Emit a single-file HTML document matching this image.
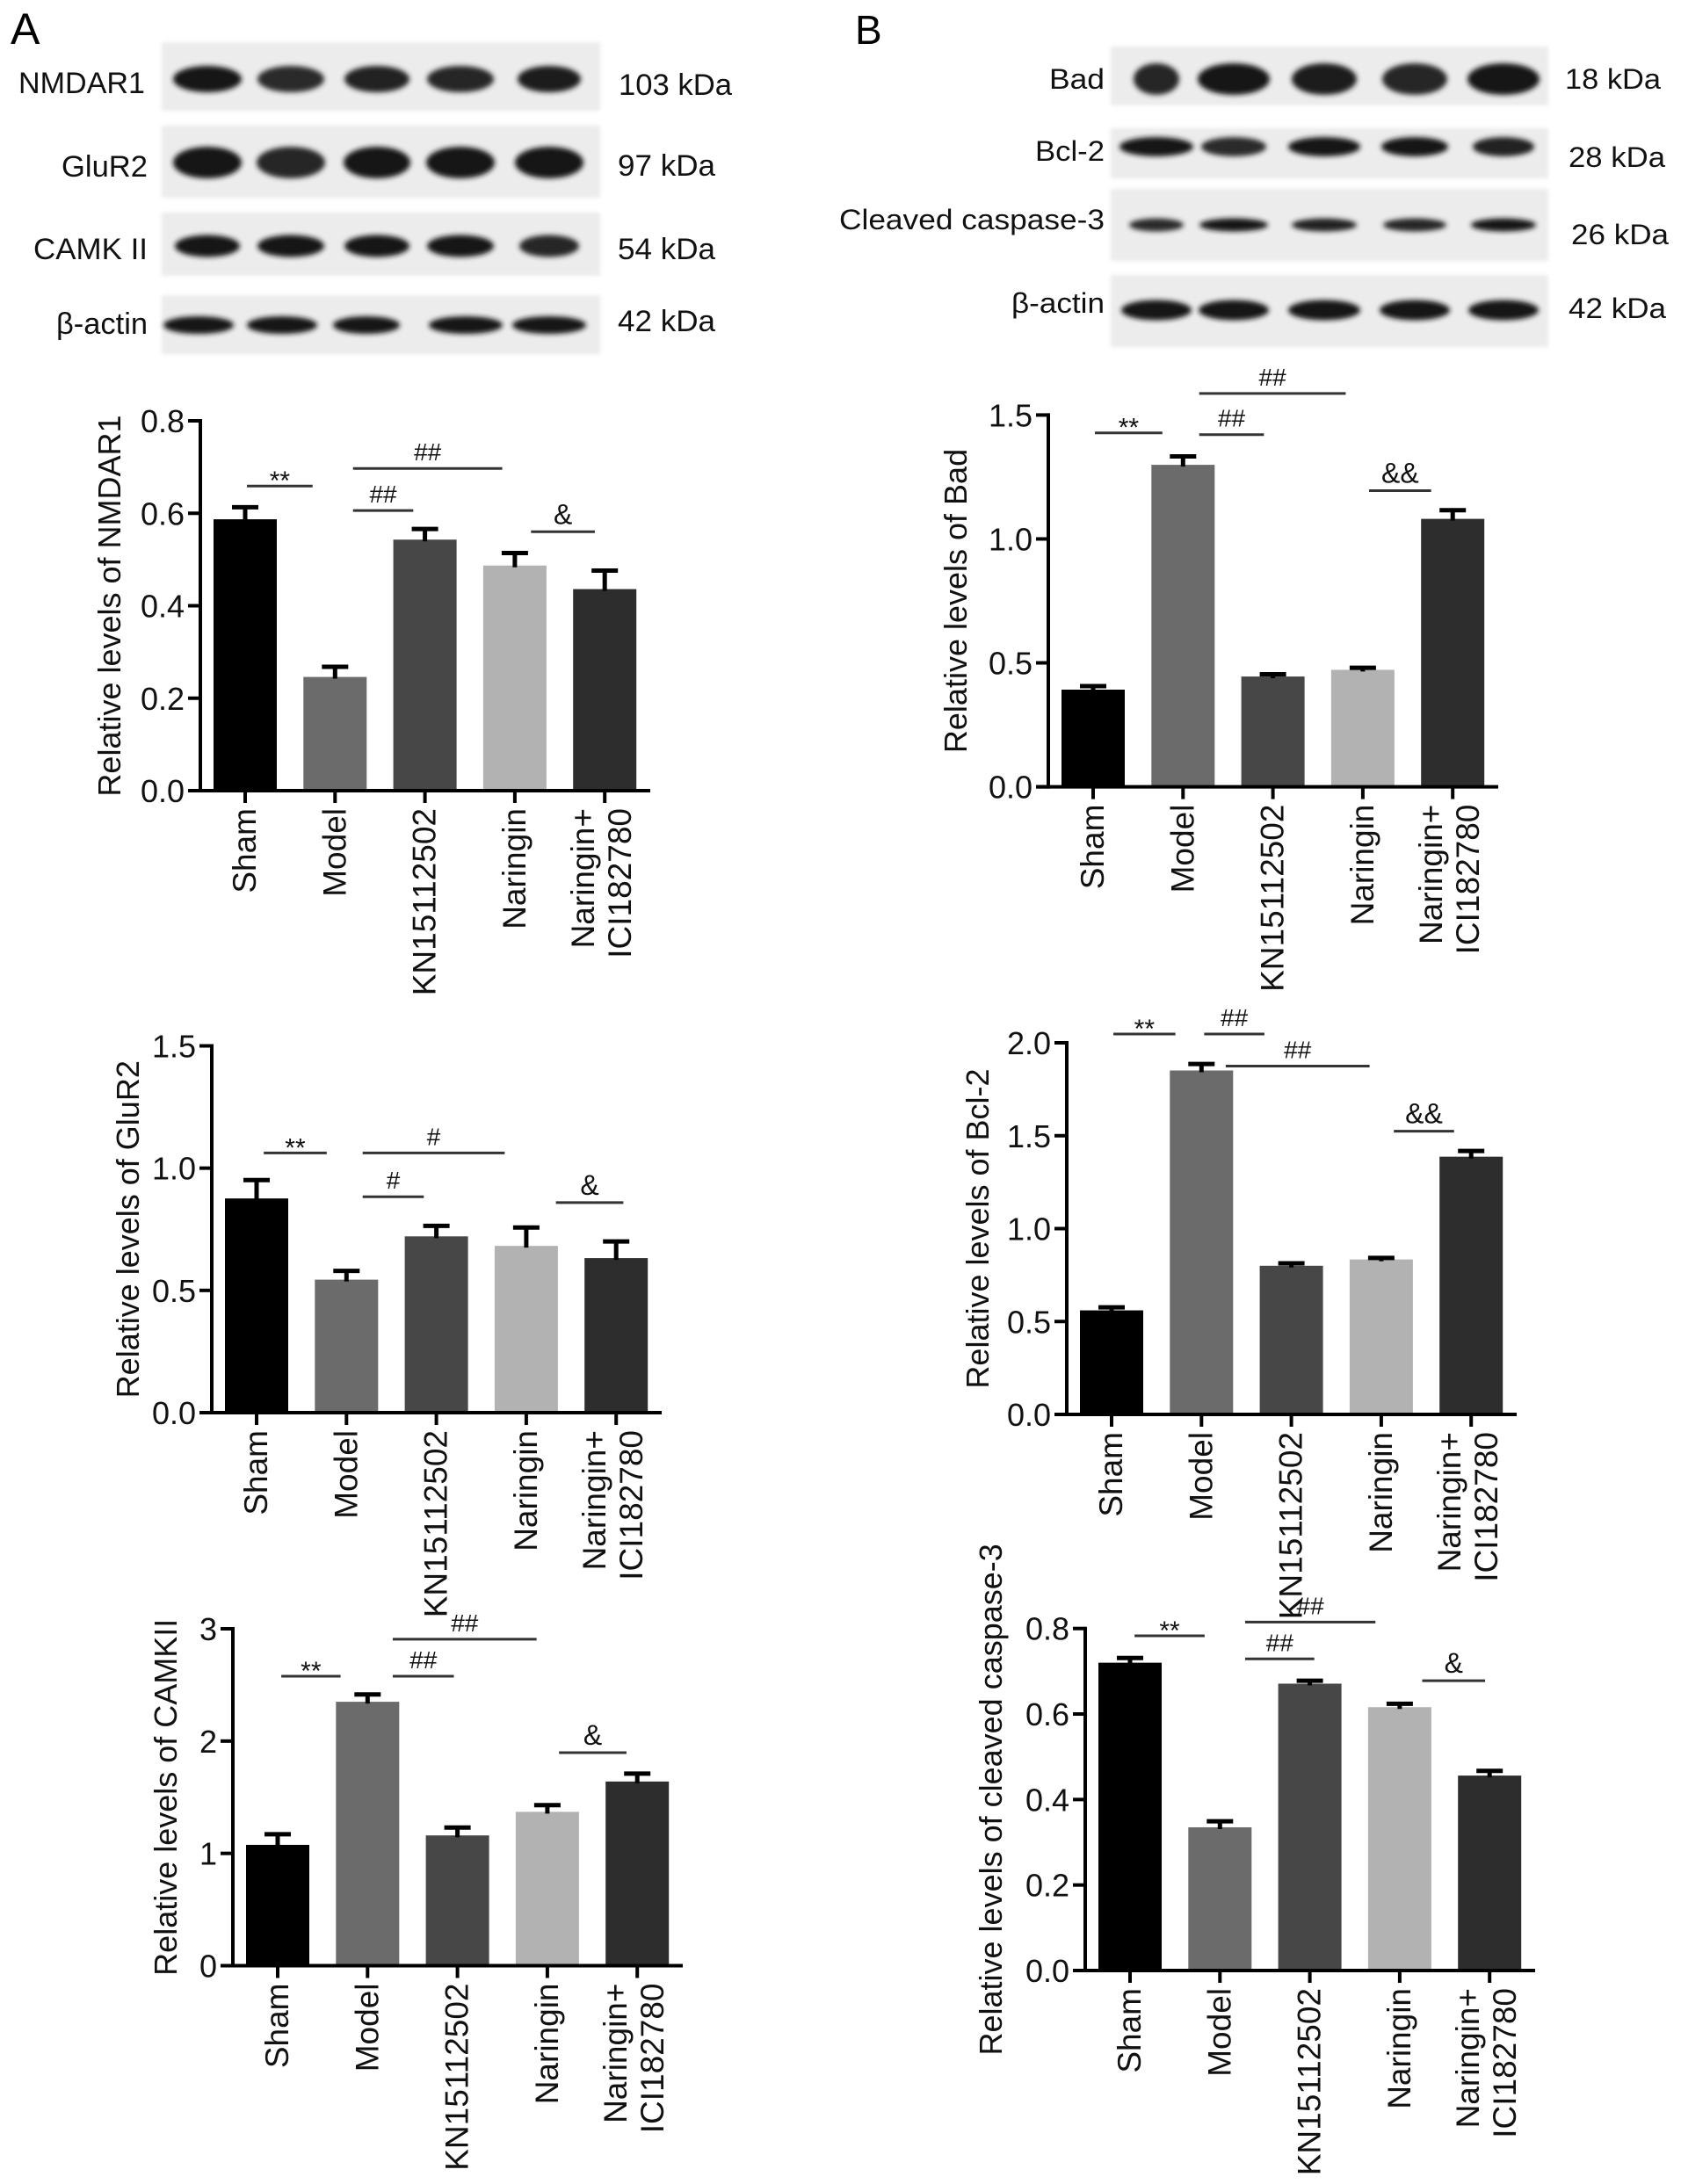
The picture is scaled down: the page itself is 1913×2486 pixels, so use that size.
<!DOCTYPE html>
<html><head><meta charset="utf-8"><style>
html,body{margin:0;padding:0;background:#fff;}
svg{display:block;font-family:"Liberation Sans",Arial,sans-serif;}
</style></head><body>
<svg id="fig" xmlns="http://www.w3.org/2000/svg" width="1913" height="2486" viewBox="0 0 1913 2486">
<defs>
<filter id="blur" x="-30%" y="-80%" width="160%" height="260%"><feGaussianBlur stdDeviation="3"/></filter>
<filter id="blur2" x="-10%" y="-10%" width="120%" height="120%"><feGaussianBlur stdDeviation="2"/></filter>
</defs>
<rect width="1913" height="2486" fill="#fff"/>
<text x="12" y="50" font-size="50">A</text>
<text x="973" y="50" font-size="46">B</text>
<g id="blots"></g>
<g id="charts"></g>
</svg>
<script>
const NS='http://www.w3.org/2000/svg';
function mk(tag,attrs,parent){const e=document.createElementNS(NS,tag);for(const k in attrs)e.setAttribute(k,attrs[k]);parent.appendChild(e);return e;}

// ---------- Chart data ----------
const categories=['Sham','Model','KN15112502','Naringin','Naringin+|ICI182780'];
const barColors=['#000000','#6b6b6b','#474747','#b2b2b2','#2d2d2d'];

const nmdarValues=[0.587,0.246,0.543,0.487,0.436];
const nmdarErrors=[0.026,0.022,0.023,0.027,0.040];
const nmdarTicks=['0.0','0.2','0.4','0.6','0.8'];
const nmdarTickValues=[0,0.2,0.4,0.6,0.8];
const nmdarSig=[[0.02,0.75,0.659,'**'],[1.2,2.86,0.697,'##'],[1.2,1.87,0.606,'##'],[3.18,3.89,0.56,'&']];

const glurValues=[0.876,0.544,0.721,0.682,0.632];
const glurErrors=[0.075,0.036,0.043,0.075,0.068];
const glurTicks=['0.0','0.5','1.0','1.5'];
const glurTickValues=[0,0.5,1.0,1.5];
const glurSig=[[0.08,0.78,1.062,'**'],[1.18,2.76,1.062,'#'],[1.18,1.86,0.883,'#'],[3.33,4.08,0.859,'&']];

const camkValues=[1.076,2.35,1.16,1.37,1.64];
const camkErrors=[0.094,0.065,0.07,0.06,0.07];
const camkTicks=['0','1','2','3'];
const camkTickValues=[0,1,2,3];
const camkSig=[[0.04,0.70,2.578,'**'],[1.28,2.88,2.907,'##'],[1.28,1.96,2.578,'##'],[3.13,3.88,1.897,'&']];

const badValues=[0.392,1.299,0.445,0.472,1.081];
const badErrors=[0.014,0.034,0.009,0.008,0.035];
const badTicks=['0.0','0.5','1.0','1.5'];
const badTickValues=[0,0.5,1.0,1.5];
const badSig=[[0.02,0.77,1.428,'**'],[1.18,2.81,1.587,'##'],[1.18,1.90,1.421,'##'],[3.07,3.76,1.195,'&&']];

const bclValues=[0.56,1.851,0.80,0.834,1.387];
const bclErrors=[0.016,0.035,0.013,0.008,0.031];
const bclTicks=['0.0','0.5','1.0','1.5','2.0'];
const bclTickValues=[0,0.5,1.0,1.5,2.0];
const bclSig=[[0.02,0.71,2.047,'**'],[1.03,1.70,2.047,'##'],[1.27,2.87,1.875,'##'],[3.14,3.81,1.524,'&&']];

const caspValues=[0.72,0.335,0.671,0.616,0.456];
const caspErrors=[0.011,0.014,0.007,0.008,0.011];
const caspTicks=['0.0','0.2','0.4','0.6','0.8'];
const caspTickValues=[0,0.2,0.4,0.6,0.8];
const caspSig=[[0.05,0.83,0.783,'**'],[1.28,2.73,0.815,'##'],[1.28,2.05,0.729,'##'],[3.25,3.95,0.678,'&']];

// ---------- layout (pixels, not data) ----------
const chartLayouts=[
 {name:'nmdar1',title:'Relative levels of NMDAR1',ax:228,y0:900,yTop:479,max:0.8,tx:125,vals:nmdarValues,errs:nmdarErrors,ticks:nmdarTicks,tv:nmdarTickValues,sig:nmdarSig},
 {name:'glur2',title:'Relative levels of GluR2',ax:241,y0:1608,yTop:1190.5,max:1.5,tx:146,vals:glurValues,errs:glurErrors,ticks:glurTicks,tv:glurTickValues,sig:glurSig},
 {name:'camkii',title:'Relative levels of CAMKII',ax:265,y0:2237.5,yTop:1854,max:3,tx:189,vals:camkValues,errs:camkErrors,ticks:camkTicks,tv:camkTickValues,sig:camkSig},
 {name:'bad',title:'Relative levels of Bad',ax:1193,y0:895.6,yTop:472.4,max:1.5,tx:1088,vals:badValues,errs:badErrors,ticks:badTicks,tv:badTickValues,sig:badSig},
 {name:'bcl2',title:'Relative levels of Bcl-2',ax:1214,y0:1610,yTop:1187,max:2.0,tx:1113,vals:bclValues,errs:bclErrors,ticks:bclTicks,tv:bclTickValues,sig:bclSig},
 {name:'caspase3',title:'Relative levels of cleaved caspase-3',ax:1235,y0:2243,yTop:1853.7,max:0.8,tx:1128,vals:caspValues,errs:caspErrors,ticks:caspTicks,tv:caspTickValues,sig:caspSig}
];

const chartsG=document.getElementById('charts');
chartLayouts.forEach(L=>{
  const g=mk('g',{},chartsG);
  
  
  const step=102.3, bw=72;
  const yS=v=>L.y0-(v/L.max)*(L.y0-L.yTop);
  const xS=i=>L.ax+51+i*step;
  L.vals.forEach((v,i)=>{
    const r=mk('rect',{x:xS(i)-bw/2,y:yS(v),width:bw,height:L.y0-yS(v),fill:barColors[i]},g);
    
    
    const top=yS(v+L.errs[i]);
    const e=mk('path',{d:`M${xS(i)} ${yS(v)+2}V${top}M${xS(i)-15} ${top}H${xS(i)+15}`,stroke:'#000','stroke-width':5,fill:'none'},g);
    
    
  });
  const ya=mk('line',{x1:L.ax,y1:L.yTop-2,x2:L.ax,y2:L.y0+2,stroke:'#000','stroke-width':4},g);
  
  
  const xa=mk('line',{x1:L.ax-14,y1:L.y0,x2:L.ax+512,y2:L.y0,stroke:'#000','stroke-width':4},g);
  
  
  L.tv.forEach((v,k)=>{
    const y=yS(v);
    mk('line',{x1:L.ax-14,y1:y,x2:L.ax,y2:y,stroke:'#000','stroke-width':4},g);
    const t=mk('text',{x:L.ax-18,y:y+13,'font-size':36,'text-anchor':'end',fill:'#111'},g);
    t.textContent=L.ticks[k];
    
    
  });
  categories.forEach((c,i)=>{
    const x=xS(i);
    mk('line',{x1:x,y1:L.y0,x2:x,y2:L.y0+14,stroke:'#000','stroke-width':4},g);
    const parts=c.split('|');
    const offs=parts.length===1?[12]:[-12,30];
    parts.forEach((p,j)=>{
      const bx=x+offs[j], by=L.y0+20;
      const t=mk('text',{x:bx,y:by,'font-size':37,'text-anchor':'end',transform:`rotate(-90 ${bx} ${by})`,fill:'#111'},g);
      t.textContent=p;
      
      
    });
  });
  const cy=(L.y0+L.yTop)/2;
  const tt=mk('text',{x:L.tx+12,y:cy,'font-size':36,'text-anchor':'middle',transform:`rotate(-90 ${L.tx+12} ${cy})`,fill:'#111'},g);
  tt.textContent=L.title;
  
  
  L.sig.forEach(s=>{
    const x1=xS(s[0]),x2=xS(s[1]),y=yS(s[2]);
    const ln=mk('line',{x1:x1,y1:y,x2:x2,y2:y,stroke:'#333','stroke-width':3},g);
    
    
    const isStar=s[3]==='**';
    const t=mk('text',{x:(x1+x2)/2,y:isStar?y+4:y-9,'font-size':isStar?30:(s[3].startsWith('&')?32:28),'text-anchor':'middle',fill:'#111'},g);
    t.textContent=s[3];
    
    
  });
});

// ---------- Western blots ----------
const blotsG=document.getElementById('blots');
const blotRows=[
 {name:'nmdar1',label:'NMDAR1',lx:21,lw:144,kda:'103 kDa',kx:704,kw:129,base:106,kbase:108,fs:34,bx:184,bw:499,by:48,bh:78,cy:90,h:30,lanes:[236,331,429,524,625],w:[78,76,74,76,72],dark:[1,0.8,0.9,0.85,0.95]},
 {name:'glur2',label:'GluR2',lx:70,lw:98,kda:'97 kDa',kx:703,kw:111,base:201,kbase:200,fs:34,bx:184,bw:499,by:143,bh:82,cy:185,h:36,lanes:[236,331,429,524,625],w:[78,78,76,78,78],dark:[1,0.85,1,1,1]},
 {name:'camkii',label:'CAMK II',lx:38,lw:130,kda:'54 kDa',kx:703,kw:111,base:295,kbase:295,fs:34,bx:184,bw:499,by:242,bh:72,cy:280,h:25,lanes:[236,331,429,524,625],w:[74,76,74,76,68],dark:[1,1,1,1,0.85]},
 {name:'actin-a',label:'β-actin',lx:64,lw:104,kda:'42 kDa',kx:703,kw:111,base:380,kbase:377,fs:34,bx:184,bw:499,by:336,bh:67,cy:370,h:20,lanes:[226,321,417,530,625],w:[80,80,76,84,84],dark:[1,1,1,1,1]},
 {name:'bad',label:'Bad',lx:1194,lw:63,kda:'18 kDa',kx:1781,kw:109,base:101,kbase:101,fs:32,bx:1264,bw:498,by:53,bh:67,cy:90,h:36,lanes:[1316,1404,1507,1610,1711],w:[52,82,74,74,82],dark:[0.85,1,0.95,0.85,1]},
 {name:'bcl2',label:'Bcl-2',lx:1178,lw:79,kda:'28 kDa',kx:1785,kw:110,base:183,kbase:190,fs:32,bx:1264,bw:498,by:146,bh:57,cy:167,h:22,lanes:[1316,1404,1507,1610,1711],w:[84,74,82,76,70],dark:[1,0.8,1,1,0.9]},
 {name:'cleaved-caspase3',label:'Cleaved caspase-3',lx:955,lw:302,kda:'26 kDa',kx:1788,kw:111,base:261,kbase:278,fs:32,bx:1264,bw:498,by:215,bh:82,cy:256,h:15,lanes:[1316,1404,1507,1610,1711],w:[62,78,74,72,74],dark:[0.8,1,0.9,0.85,1]},
 {name:'actin-b',label:'β-actin',lx:1151,lw:106,kda:'42 kDa',kx:1785,kw:111,base:356,kbase:362,fs:32,bx:1264,bw:498,by:313,bh:82,cy:353,h:23,lanes:[1316,1404,1507,1610,1711],w:[80,80,82,80,80],dark:[1,1,1,1,1]}
];
blotRows.forEach(R=>{
  const g=mk('g',{},blotsG);
  
  
  const bg=mk('rect',{x:R.bx,y:R.by,width:R.bw,height:R.bh,fill:'#ececec',filter:'url(#blur2)'},g);
  
  
  R.lanes.forEach((x,i)=>{
    const c=Math.round(20+(1-R.dark[i])*120);
    const e=mk('ellipse',{cx:x,cy:R.cy,rx:R.w[i]/2,ry:R.h/2,fill:`rgb(${c},${c},${c})`,filter:'url(#blur)'},g);
    
    
  });
  const t=mk('text',{x:R.lx,y:R.base,'font-size':R.fs,textLength:R.lw,lengthAdjust:'spacingAndGlyphs',fill:'#111'},g);
  t.textContent=R.label;
  
  
  const k=mk('text',{x:R.kx,y:R.kbase,'font-size':R.fs,textLength:R.kw,lengthAdjust:'spacingAndGlyphs',fill:'#111'},g);
  k.textContent=R.kda;
  
  
});
</script>
</body></html>
